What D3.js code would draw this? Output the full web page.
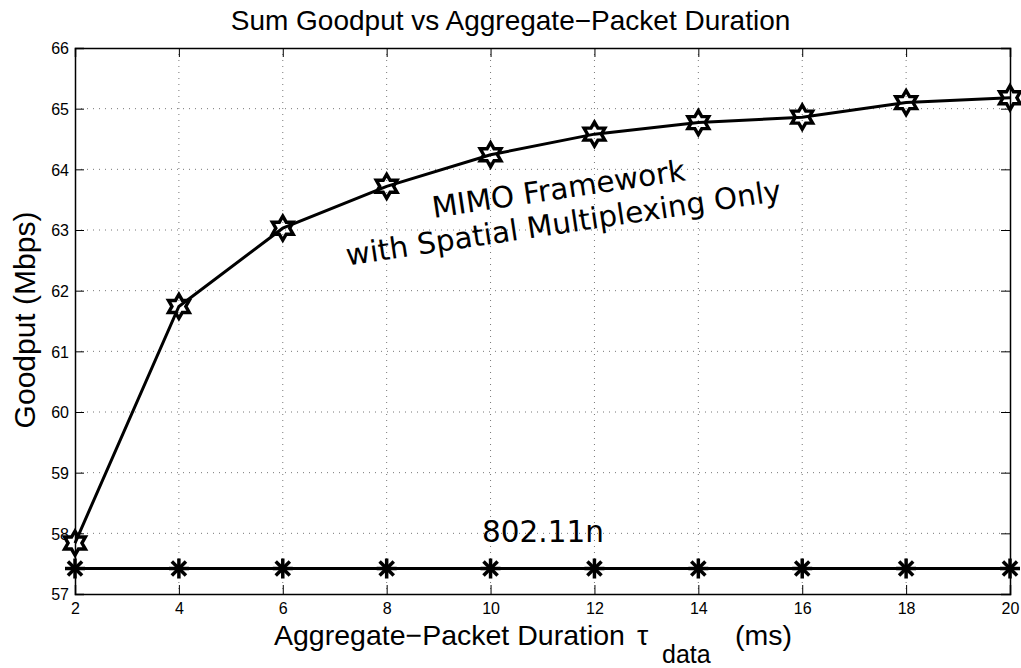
<!DOCTYPE html>
<html><head><meta charset="utf-8">
<script src="https://cdn.jsdelivr.net/npm/d3@7"></script>
<style>body{margin:0;background:#fff}svg{display:block}</style>
</head><body>
<svg id="c" width="1021" height="668"></svg>
<script>
const xValues = [2,4,6,8,10,12,14,16,18,20];
const mimoGoodput = [57.84,61.74,63.03,63.72,64.24,64.58,64.77,64.86,65.10,65.18];
const dot11nGoodput = [57.42,57.42,57.42,57.42,57.42,57.42,57.42,57.42,57.42,57.42];
const xTicks = [2,4,6,8,10,12,14,16,18,20];
const yTicks = [57,58,59,60,61,62,63,64,65,66];

const svg = d3.select("#c");
const L=75, R=1010, T=48, B=594;
const x = d3.scaleLinear().domain([2,20]).range([L,R]);
const y = d3.scaleLinear().domain([57,66]).range([B,T]);
const helv = "'Liberation Sans', Arial, Helvetica, sans-serif";
const dj = "'DejaVu Sans', sans-serif";

// grid
const g = svg.append("g");
g.selectAll(".gx").data(xTicks.slice(1,-1)).enter().append("line")
  .attr("x1",d=>x(d)).attr("x2",d=>x(d)).attr("y1",T).attr("y2",B)
  .attr("stroke","#777").attr("stroke-width",1).attr("stroke-dasharray","1,5");
g.selectAll(".gy").data(yTicks.slice(1,-1)).enter().append("line")
  .attr("y1",d=>y(d)).attr("y2",d=>y(d)).attr("x1",L).attr("x2",R)
  .attr("stroke","#777").attr("stroke-width",1).attr("stroke-dasharray","1,5");

// axes
const tl = 9;
const xb = svg.append("g").attr("transform",`translate(0,${B})`)
  .call(d3.axisBottom(x).tickValues(xTicks).tickSize(-tl).tickPadding(14).tickFormat(d3.format("d")));
const xt = svg.append("g").attr("transform",`translate(0,${T})`)
  .call(d3.axisTop(x).tickValues(xTicks).tickSize(-tl).tickFormat(""));
const yl = svg.append("g").attr("transform",`translate(${L},0)`)
  .call(d3.axisLeft(y).tickValues(yTicks).tickSize(-tl).tickPadding(14).tickFormat(d3.format("d")));
const yr = svg.append("g").attr("transform",`translate(${R},0)`)
  .call(d3.axisRight(y).tickValues(yTicks).tickSize(-tl).tickFormat(""));
[xb,xt,yl,yr].forEach(a=>{
  a.select(".domain").attr("stroke","#000").attr("stroke-width",1.5);
  a.selectAll(".tick line").attr("stroke","#000").attr("stroke-width",1);
  a.selectAll("text").attr("font-family",helv).attr("font-size",16).attr("fill","#000");
});
xb.selectAll("text").attr("dy","0.71em").attr("y",9);
yl.selectAll("text").attr("x",-6).attr("dy","0.36em");

// lines
const line = d3.line().x((d,i)=>x(xValues[i])).y(d=>y(d));
svg.append("path").datum(dot11nGoodput).attr("d",line)
  .attr("fill","none").attr("stroke","#000").attr("stroke-width",3);
svg.append("path").datum(mimoGoodput).attr("d",line)
  .attr("fill","none").attr("stroke","#000").attr("stroke-width",3);

// asterisk markers
const ar = 10;
const ast = svg.append("g");
dot11nGoodput.forEach((v,i)=>{
  const cx=x(xValues[i]), cy=y(v);
  [[0,1],[1,0],[0.707,0.707],[0.707,-0.707]].forEach(([dx,dy])=>{
    ast.append("line").attr("x1",cx-dx*ar).attr("y1",cy-dy*ar)
      .attr("x2",cx+dx*ar).attr("y2",cy+dy*ar)
      .attr("stroke","#000").attr("stroke-width",3.5);
  });
});

// hexagram markers
function hexagram(r){
  const ri = r/Math.sqrt(3);
  const pts=[];
  for(let k=0;k<12;k++){
    const a = -Math.PI/2 + k*Math.PI/6;
    const rr = k%2===0 ? r : ri;
    pts.push([rr*Math.cos(a), rr*Math.sin(a)]);
  }
  return "M"+pts.map(p=>p.join(",")).join("L")+"Z";
}
svg.append("g").selectAll("path").data(mimoGoodput).enter().append("path")
  .attr("d",hexagram(12))
  .attr("transform",(d,i)=>`translate(${x(xValues[i])},${y(d)})`)
  .attr("fill","none").attr("stroke","#000").attr("stroke-width",3.4).attr("stroke-linejoin","miter");

// title
svg.append("text").attr("x",510.5).attr("y",30).attr("text-anchor","middle")
  .attr("font-family",helv).attr("font-size",28).text("Sum Goodput vs Aggregate\u2212Packet Duration");

// y label
svg.append("text").attr("transform","translate(35,320) rotate(-90)").attr("text-anchor","middle")
  .attr("font-family",helv).attr("font-size",30).text("Goodput (Mbps)");

// x label
const xlab = svg.append("text").attr("y",645)
  .attr("font-family",helv).attr("font-size",28.5);
xlab.append("tspan").attr("x",274).text("Aggregate\u2212Packet Duration");
xlab.append("tspan").attr("x",637).text("\u03C4");
xlab.append("tspan").attr("x",662).attr("font-size",25).attr("dy",18).text("data");
xlab.append("tspan").attr("x",735).attr("dy",-18).text("(ms)");

// annotations
const ang = -8.5;
svg.append("text").attr("transform",`translate(560,199) rotate(${ang})`).attr("text-anchor","middle")
  .attr("font-family",dj).attr("font-size",29.5).text("MIMO Framework");
svg.append("text").attr("transform",`translate(565,233) rotate(${ang})`).attr("text-anchor","middle")
  .attr("font-family",dj).attr("font-size",29.5).text("with Spatial Multiplexing Only");
svg.append("text").attr("x",543).attr("y",542).attr("text-anchor","middle")
  .attr("font-family",dj).attr("font-size",29.5).text("802.11n");
</script>
</body></html>
